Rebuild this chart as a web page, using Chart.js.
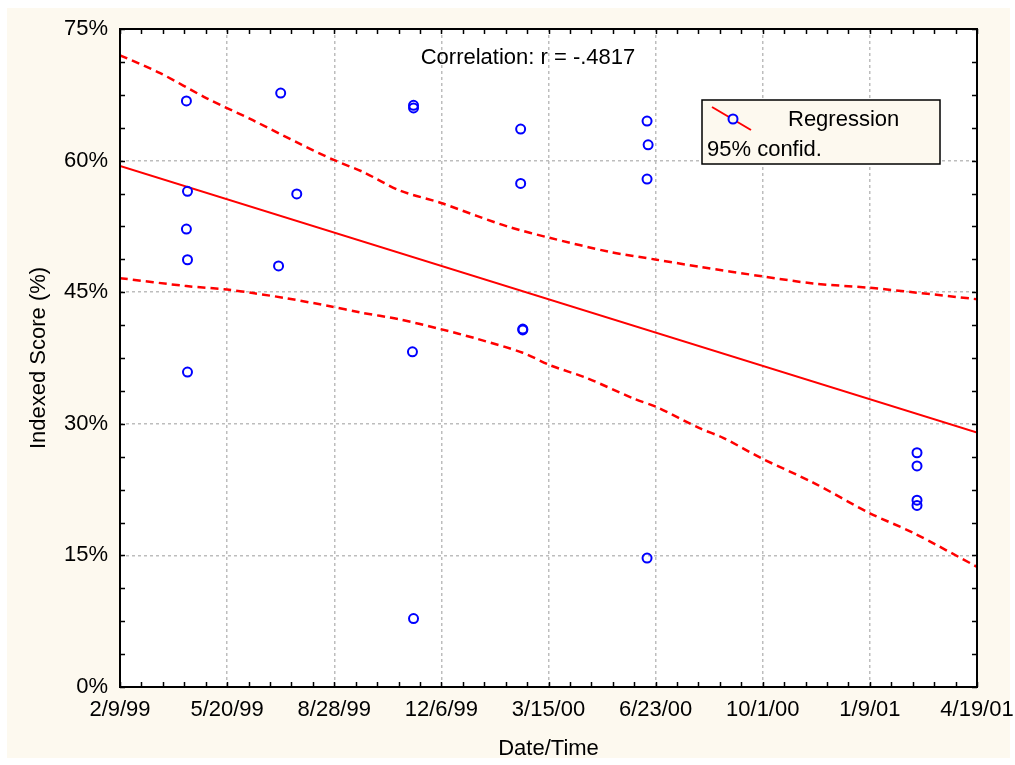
<!DOCTYPE html>
<html>
<head>
<meta charset="utf-8">
<script src="https://cdn.jsdelivr.net/npm/chart.js@4/dist/chart.umd.min.js"></script>
<style>
  body { margin: 0; background: #fff; }
</style>
</head>
<body>
<canvas id="myChart" width="1015" height="765"></canvas>
<script>
// days counted from 2/9/99
var xTickLabels = ['2/9/99', '5/20/99', '8/28/99', '12/6/99', '3/15/00', '6/23/00', '10/1/00', '1/9/01', '4/19/01'];
var yTicks = [0, 15, 30, 45, 60, 75];

var pointDays   = [62, 63, 62, 63, 63, 150, 148, 165, 274, 274, 273, 274, 374, 374, 376, 376, 492, 493, 492, 492, 744, 744, 744, 744];
var pointScores = [66.8, 56.5, 52.2, 48.7, 35.9, 67.7, 48.0, 56.2, 66.3, 66.0, 38.2, 7.8, 63.6, 57.4, 40.7, 40.8, 64.5, 61.8, 57.9, 14.7, 26.7, 25.2, 21.3, 20.7];

var fitDays   = [0, 800];
var fitScores = [59.4, 29.0];

var upperDays   = [0, 37, 81, 124, 168, 199, 227, 261, 299, 333, 364, 401, 457, 501, 541, 600, 647, 700, 740, 800];
var upperScores = [72.0, 70.0, 67.1, 64.6, 61.9, 60.1, 58.7, 56.6, 55.2, 53.7, 52.4, 51.2, 49.6, 48.7, 47.9, 46.8, 46.0, 45.5, 45.0, 44.2];

var lowerDays   = [0, 62, 100, 124, 156, 196, 224, 261, 299, 333, 376, 401, 436, 479, 501, 541, 563, 600, 647, 700, 740, 800];
var lowerScores = [46.6, 45.7, 45.3, 44.9, 44.3, 43.4, 42.7, 41.9, 40.8, 39.7, 38.1, 36.7, 35.2, 32.9, 31.9, 29.5, 28.4, 26.0, 23.3, 19.8, 17.6, 13.7];

function xy(xs, ys) {
    return xs.map(function (v, i) { return { x: v, y: ys[i] }; });
}

var FONT = 'Liberation Sans, Arial, sans-serif';
Chart.defaults.color = '#000';
Chart.defaults.font.family = FONT;
Chart.defaults.font.size = 22;

var backdrop = {
    id: 'backdrop',
    beforeDraw: function (chart) {
        var ctx = chart.ctx, a = chart.chartArea;
        ctx.save();
        ctx.fillStyle = '#fdf9ef';
        ctx.fillRect(7, 8, 1003, 750);
        ctx.fillStyle = '#fff';
        ctx.fillRect(a.left, a.top, a.right - a.left, a.bottom - a.top);
        ctx.restore();
    }
};

var frame = {
    id: 'frame',
    afterDatasetsDraw: function (chart) {
        var ctx = chart.ctx, a = chart.chartArea;
        var x = chart.scales.x, y = chart.scales.y;
        ctx.save();
        ctx.strokeStyle = '#000';
        ctx.lineWidth = 1.5;
        ctx.beginPath();
        for (var d = 0; d <= 800; d += 20) {
            var px = Math.round(x.getPixelForValue(d)) + 0.5;
            ctx.moveTo(px, a.bottom); ctx.lineTo(px, a.bottom - 5);
            ctx.moveTo(px, a.top); ctx.lineTo(px, a.top + 5);
        }
        for (var v = 0; v <= 75.01; v += 3.75) {
            var py = Math.round(y.getPixelForValue(v)) + 0.5;
            ctx.moveTo(a.left, py); ctx.lineTo(a.left + 5, py);
            ctx.moveTo(a.right, py); ctx.lineTo(a.right - 5, py);
        }
        ctx.stroke();
        ctx.lineWidth = 2;
        ctx.strokeRect(a.left, a.top, a.right - a.left, a.bottom - a.top);

        // correlation note
        ctx.fillStyle = '#000';
        ctx.font = '22px ' + FONT;
        ctx.textAlign = 'center';
        ctx.textBaseline = 'middle';
        ctx.fillText('Correlation: r = -.4817', 528, 58);

        // legend box
        ctx.fillStyle = '#fdf9ef';
        ctx.fillRect(702, 100, 238, 64);
        ctx.lineWidth = 1.5;
        ctx.strokeRect(702, 100, 238, 64);
        ctx.strokeStyle = '#ff0000';
        ctx.lineWidth = 2;
        ctx.beginPath();
        ctx.moveTo(712, 107); ctx.lineTo(751, 130);
        ctx.stroke();
        ctx.strokeStyle = '#0000ff';
        ctx.fillStyle = '#fdf9ef';
        ctx.beginPath();
        ctx.arc(733, 119, 4.5, 0, Math.PI * 2);
        ctx.fill();
        ctx.stroke();
        ctx.fillStyle = '#000';
        ctx.textAlign = 'left';
        ctx.fillText('Regression', 788, 120);
        ctx.fillText('95% confid.', 707, 150);
        ctx.restore();
    }
};

var ctx = document.getElementById('myChart').getContext('2d');

var myChart = new Chart(ctx, {
    type: 'scatter',
    data: {
        datasets: [
            {
                label: 'Points',
                data: xy(pointDays, pointScores),
                pointRadius: 4.5,
                pointBorderWidth: 2,
                pointBorderColor: '#0000ff',
                pointBackgroundColor: 'rgba(0,0,0,0)',
                showLine: false
            },
            {
                label: 'Regression',
                data: xy(fitDays, fitScores),
                showLine: true,
                borderColor: '#ff0000',
                borderWidth: 2,
                pointRadius: 0
            },
            {
                label: 'Upper 95%',
                data: xy(upperDays, upperScores),
                showLine: true,
                borderColor: '#ff0000',
                borderWidth: 2.5,
                borderDash: [8, 5],
                tension: 0.3,
                pointRadius: 0
            },
            {
                label: 'Lower 95%',
                data: xy(lowerDays, lowerScores),
                showLine: true,
                borderColor: '#ff0000',
                borderWidth: 2.5,
                borderDash: [8, 5],
                tension: 0.3,
                pointRadius: 0
            }
        ]
    },
    options: {
        responsive: false,
        maintainAspectRatio: false,
        animation: false,
        layout: { padding: { top: 29, right: 38, left: 0, bottom: 0 } },
        plugins: {
            legend: { display: false },
            tooltip: { enabled: false }
        },
        scales: {
            x: {
                type: 'linear',
                min: 0,
                max: 800,
                afterFit: function (s) {
                    s.height = 78;
                    s.paddingLeft = 0;
                    s.paddingRight = 0;
                },
                afterBuildTicks: function (s) {
                    s.ticks = xTickLabels.map(function (l, i) { return { value: i * 100 }; });
                },
                grid: {
                    color: '#bdbdbd',
                    lineWidth: 1.5,
                    drawTicks: false
                },
                border: { display: false, dash: [3, 3] },
                ticks: {
                    maxRotation: 0,
                    autoSkip: false,
                    padding: 10,
                    callback: function (v) { return xTickLabels[Math.round(v / 100)]; }
                },
                title: {
                    display: true,
                    text: 'Date/Time',
                    padding: { top: 0, bottom: 3 }
                }
            },
            y: {
                min: 0,
                max: 75,
                afterFit: function (s) {
                    s.width = 120;
                    s.paddingTop = 0;
                    s.paddingBottom = 0;
                },
                afterBuildTicks: function (s) {
                    s.ticks = yTicks.map(function (v) { return { value: v }; });
                },
                grid: {
                    color: '#bdbdbd',
                    lineWidth: 1.5,
                    drawTicks: false
                },
                border: { display: false, dash: [3, 3] },
                ticks: {
                    padding: 12,
                    callback: function (v) { return v + '%'; }
                },
                title: {
                    display: true,
                    text: 'Indexed Score (%)',
                    padding: { top: 26, bottom: 0 }
                }
            }
        }
    },
    plugins: [backdrop, frame]
});
</script>
</body>
</html>
